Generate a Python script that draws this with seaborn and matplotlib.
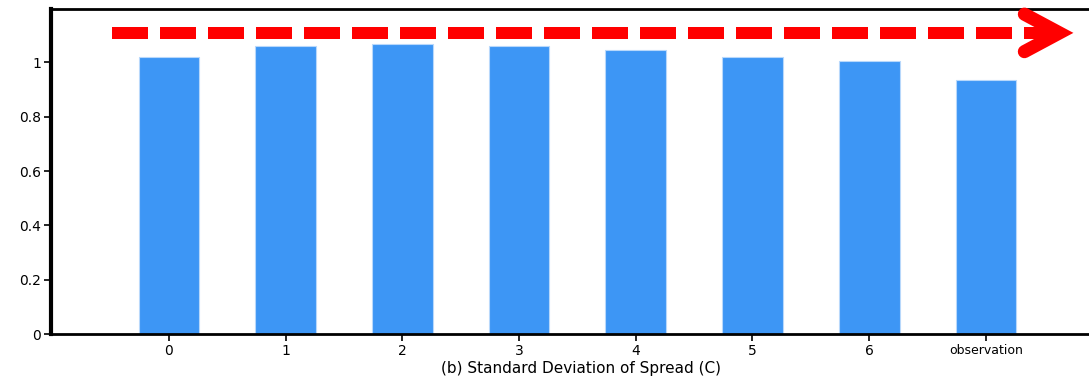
import matplotlib
matplotlib.use("Agg")
import matplotlib.pyplot as plt
import seaborn as sns
import pandas as pd

categories = ["0", "1", "2", "3", "4", "5", "6", "observation"]
values = [1.022, 1.061, 1.068, 1.061, 1.047, 1.022, 1.006, 0.935]
yticks = [0, 0.2, 0.4, 0.6, 0.8, 1]
ytick_labels = ["0", "0.2", "0.4", "0.6", "0.8", "1"]
arrow_level = 1.109
xlabel = "(b) Standard Deviation of Spread (C)"

sns.set_style("ticks")
plt.rcParams['font.family'] = ['DejaVu Sans']

df = pd.DataFrame({"cat": categories, "val": values})

fig = plt.figure(figsize=(10.89, 3.81), dpi=100)
ax = fig.add_axes([51/1089, 47/381, 1.02 - 51/1089, 325/381])

sns.barplot(data=df, x="cat", y="val", color="#3d96f5", width=0.52,
            saturation=1, ax=ax, edgecolor="#b8d8fb", linewidth=0.8)

ax.set_xlim(-1.01, 8.07)
ax.set_ylim(0, 1.197)
ax.set_yticks(yticks)
ax.set_yticklabels(ytick_labels, fontsize=10)
ax.tick_params(axis="x", labelsize=10, length=5, width=1.2, direction="out",
               pad=2, colors="black")
ax.tick_params(axis="y", length=5, width=1.2, direction="out", pad=2,
               colors="black")
for lbl in ax.get_xticklabels():
    if lbl.get_text() == "observation":
        lbl.set_fontsize(9)
ax.set_xlabel(xlabel, fontsize=11, labelpad=2, color="black")
ax.set_ylabel("")

for s in ax.spines.values():
    s.set_color("black")
    s.set_visible(True)
ax.spines["left"].set_linewidth(3)
ax.spines["bottom"].set_linewidth(2)
ax.spines["top"].set_linewidth(2)

# red dashed arrow
lw = 9.5
ax.plot([-0.488, 7.58], [arrow_level, arrow_level], color="#ff0000",
        linewidth=8.64, linestyle=(0, (3, 1)), solid_capstyle="butt",
        dash_capstyle="butt", clip_on=False, zorder=5)
ax.plot([7.33, 7.63, 7.33], [arrow_level + 0.069, arrow_level, arrow_level - 0.069],
        color="#ff0000", linewidth=lw, solid_capstyle="round",
        solid_joinstyle="miter", clip_on=False, zorder=5)

fig.savefig("out.png", dpi=100)
